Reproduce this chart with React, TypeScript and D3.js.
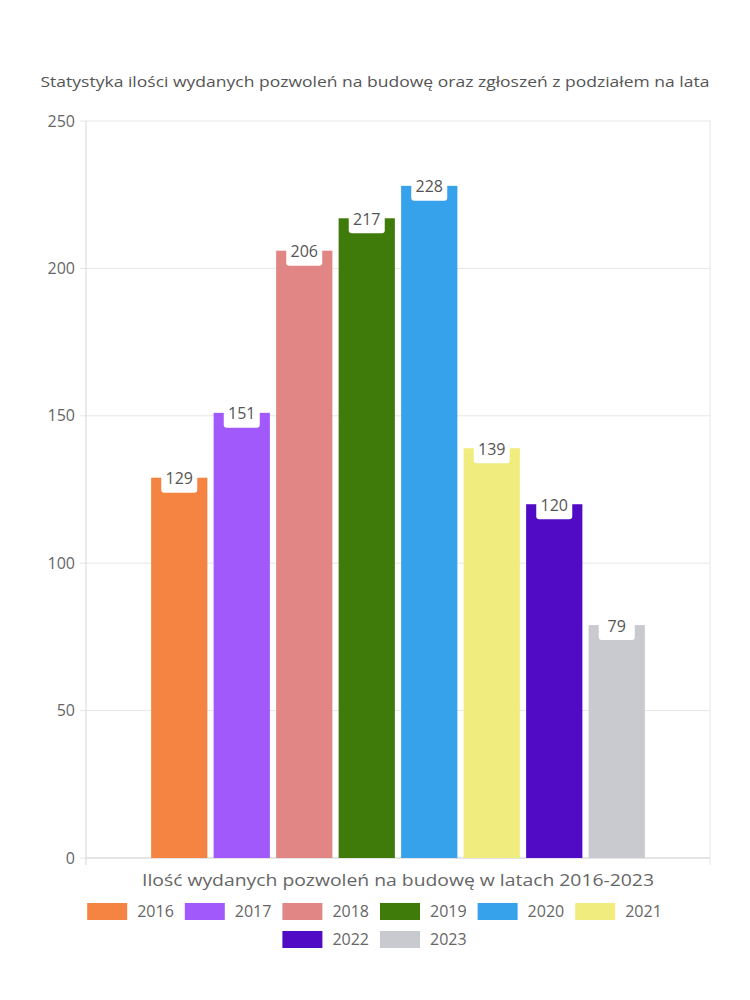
import React from "react";
import * as d3 from "d3";

const years = ["2016", "2017", "2018", "2019", "2020", "2021", "2022", "2023"];
const values = [129, 151, 206, 217, 228, 139, 120, 79];
const colors = ["#f58442", "#a259fb", "#e28585", "#3e7b0b", "#36a2eb", "#f0ec7d", "#520bc4", "#c9cacf"];
const yTicks = [0, 50, 100, 150, 200, 250];
const category = ["Ilość wydanych pozwoleń na budowę w latach 2016-2023"];
const title = "Statystyka ilości wydanych pozwoleń na budowę oraz zgłoszeń z podziałem na lata";

const W = 750, H = 1000;
const left = 86, right = 710, top = 121, bottom = 858;
const font = "'Open Sans', 'Noto Sans', sans-serif";
const textColor = "#666";

export default function App() {
  const y = d3.scaleLinear().domain([0, 250]).range([bottom, top]);
  const x0 = d3.scaleBand().domain(category).range([left, right]).paddingInner(0).paddingOuter(0.124);
  const x1 = d3.scaleBand().domain(years).range([0, x0.bandwidth()]).paddingInner(0.1).paddingOuter(0.05);
  const gx = x0(category[0])!;

  const itemW = 97.6;
  const rows = [years.slice(0, 6), years.slice(6)];

  return (
    <svg width={W} height={H} style={{ position: "absolute", left: 0, top: 0, background: "#fff" }} fontFamily={font}>
      <text x={375} y={87} textAnchor="middle" fontSize={15} fill="#555" textLength={669} lengthAdjust="spacingAndGlyphs">{title}</text>
      {yTicks.map((t) => (
        <g key={t}>
          <line x1={left} x2={right} y1={y(t)} y2={y(t)} stroke="#e6e6e6" />
          <line x1={left - 6} x2={left} y1={y(t)} y2={y(t)} stroke="#e6e6e6" />
          <text x={left - 11} y={y(t)} dy="0.35em" textAnchor="end" fontSize={16} fill={textColor}>{t}</text>
        </g>
      ))}
      <line x1={left} x2={left} y1={top} y2={bottom + 7} stroke="#d6d6d6" />
      <line x1={right} x2={right} y1={top} y2={bottom + 7} stroke="#e6e6e6" />
      <line x1={left} x2={right} y1={bottom} y2={bottom} stroke="#d6d6d6" />
      {years.map((yr, i) => {
        const bx = gx + x1(yr)!;
        const bw = x1.bandwidth();
        const by = y(values[i]);
        const cx = bx + bw / 2;
        return (
          <g key={yr}>
            <rect x={bx} y={by} width={bw} height={bottom - by} fill={colors[i]} />
            <rect x={cx - 18} y={by - 10} width={36} height={25} rx={3} fill="#fff" />
            <text x={cx} y={by + 1} dy="0.35em" textAnchor="middle" fontSize={16} fill="#555">{values[i]}</text>
          </g>
        );
      })}
      <text x={(left + right) / 2} y={886} textAnchor="middle" fontSize={16} fill={textColor} textLength={512} lengthAdjust="spacingAndGlyphs">{category[0]}</text>
      {rows.map((row, r) => {
        const total = row.length * itemW - 10;
        const sx = 375 - total / 2;
        return row.map((yr, j) => {
          const i = years.indexOf(yr);
          const ix = sx + j * itemW;
          const iy = 903 + r * 28;
          return (
            <g key={yr}>
              <rect x={ix} y={iy} width={40} height={17} fill={colors[i]} />
              <text x={ix + 50} y={iy + 8.5} dy="0.35em" fontSize={16} fill={textColor}>{yr}</text>
            </g>
          );
        });
      })}
    </svg>
  );
}
